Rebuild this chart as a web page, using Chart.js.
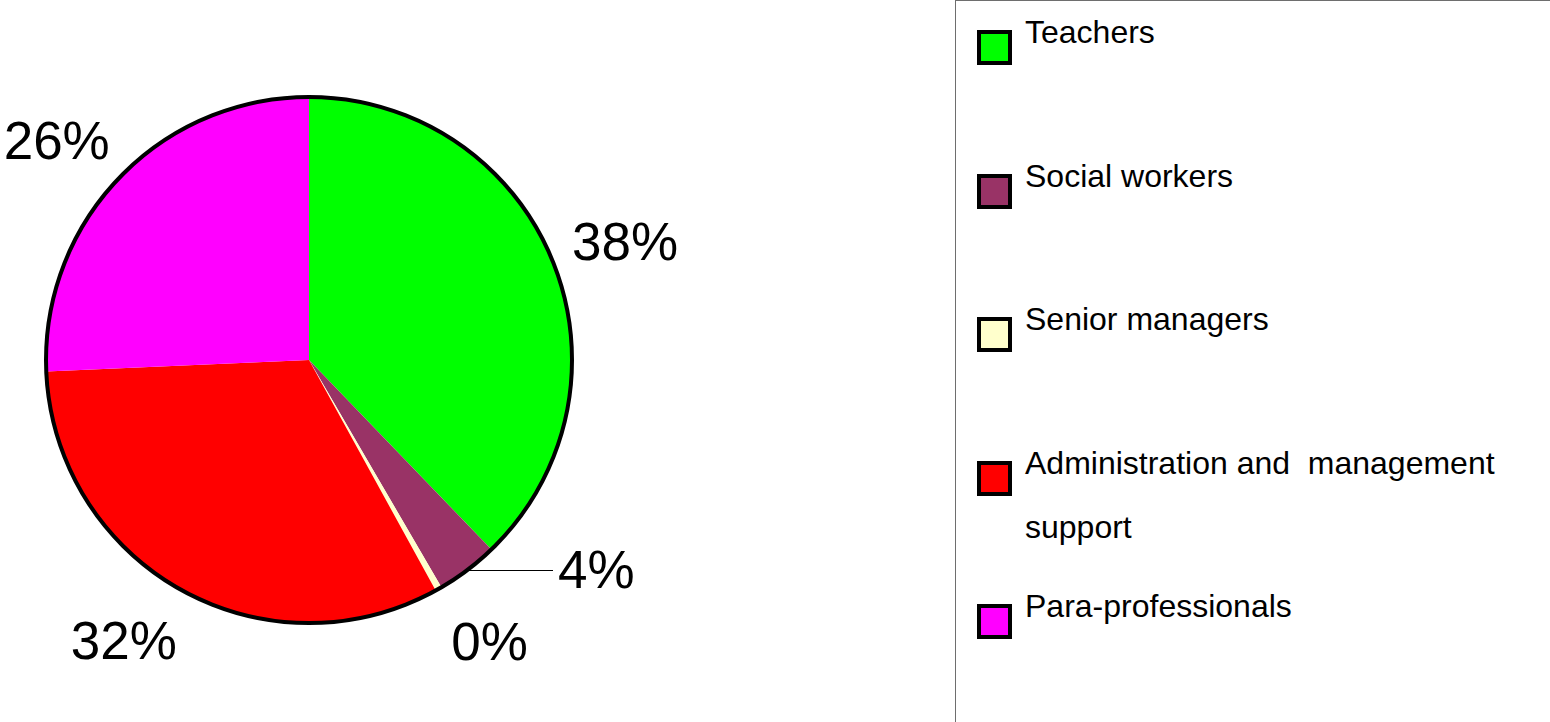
<!DOCTYPE html>
<html>
<head>
<meta charset="utf-8">
<script src="https://cdn.jsdelivr.net/npm/chart.js@4.4.1/dist/chart.umd.min.js"></script>
<style>
	html, body {
		margin: 0;
		padding: 0;
		background: #fff;
		width: 1550px;
		height: 722px;
		overflow: hidden;
		font-family: "Liberation Sans", Arial, sans-serif;
	}
	#pie-wrap {
		position: absolute;
		left: 0;
		top: 0;
		width: 950px;
		height: 722px;
	}
	#legend {
		position: absolute;
		left: 955px;
		top: 0;
		width: 640px;
		height: 760px;
		border-left: 1px solid #6e6e6e;
		border-top: 1px solid #6e6e6e;
	}
	.legend-item {
		position: absolute;
		left: 21px;
	}
	.legend-box {
		position: absolute;
		left: 0;
		top: 0;
		width: 27px;
		height: 27px;
		border: 4px solid #000;
	}
	.legend-text {
		position: absolute;
		left: 48px;
		top: -30px;
		width: 500px;
		font-size: 32px;
		line-height: 64px;
		color: #000;
		white-space: pre-wrap;
	}
</style>
</head>
<body>
<div id="pie-wrap"><canvas id="staff-pie"></canvas></div>
<div id="legend"></div>

<script>
const categories = [
	'Teachers',
	'Social workers',
	'Senior managers',
	'Administration and  management support',
	'Para-professionals'
];
const shares = [37.8, 3.8, 0.4, 32.3, 25.7];
const sliceColors = ['#00ff00', '#993366', '#ffffcc', '#ff0000', '#ff00ff'];

const total = shares.reduce((a, b) => a + b, 0);
const pctLabels = shares.map((v) => Math.round(v / total * 100) + '%');

// label placement: angle shift (degrees) off the slice middle and distance past the rim
const labelShift = [1.7, 0, -3, 3.9, -3];
const labelGap = [74, 0, 73, 75, 70];

// Percent labels around the pie, the small social-workers slice gets a leader line
const pctLabelPlugin = {
	id: 'pctLabels',
	afterDatasetsDraw(chart) {
		const ctx = chart.ctx;
		const arcs = chart.getDatasetMeta(0).data;
		if (!arcs.length) return;
		const cx = arcs[0].x;
		const cy = arcs[0].y;
		const r = arcs[0].outerRadius;

		// outer rim
		ctx.save();
		ctx.beginPath();
		ctx.arc(cx, cy, r, 0, Math.PI * 2);
		ctx.lineWidth = 4;
		ctx.strokeStyle = '#000';
		ctx.stroke();
		ctx.restore();

		ctx.save();
		ctx.fillStyle = '#000';
		ctx.font = '53px "Liberation Sans", Arial, sans-serif';
		ctx.textBaseline = 'middle';
		arcs.forEach((arc, i) => {
			const mid = (arc.startAngle + arc.endAngle) / 2;
			if (i === 1) {
				const ex = cx + Math.cos(mid) * r;
				const ey = Math.round(cy + Math.sin(mid) * r) + 0.5;
				ctx.beginPath();
				ctx.moveTo(ex, ey);
				ctx.lineTo(cx + 244, ey);
				ctx.lineWidth = 1;
				ctx.strokeStyle = '#000';
				ctx.stroke();
				ctx.textAlign = 'left';
				ctx.fillText(pctLabels[i], cx + 249, ey + 3);
				return;
			}
			const a = mid + labelShift[i] * Math.PI / 180;
			const d = r + labelGap[i];
			ctx.textAlign = 'center';
			ctx.fillText(pctLabels[i], cx + Math.cos(a) * d, cy + Math.sin(a) * d + 2);
		});
		ctx.restore();
	}
};

new Chart(document.getElementById('staff-pie'), {
	type: 'pie',
	data: {
		labels: categories,
		datasets: [{
			data: shares,
			backgroundColor: sliceColors,
			borderWidth: 0
		}]
	},
	options: {
		responsive: true,
		maintainAspectRatio: false,
		animation: false,
		layout: {
			padding: { left: 46, right: 378, top: 97, bottom: 99 }
		},
		plugins: {
			legend: { display: false },
			tooltip: { enabled: false }
		}
	},
	plugins: [pctLabelPlugin]
});

// Boxed legend on the right
const legendEl = document.getElementById('legend');
categories.forEach((name, i) => {
	const item = document.createElement('div');
	item.className = 'legend-item';
	item.style.top = (29 + i * 143.5) + 'px';
	const box = document.createElement('div');
	box.className = 'legend-box';
	box.style.background = sliceColors[i];
	const text = document.createElement('div');
	text.className = 'legend-text';
	text.textContent = name;
	item.appendChild(box);
	item.appendChild(text);
	legendEl.appendChild(item);
});
</script>
</body>
</html>
